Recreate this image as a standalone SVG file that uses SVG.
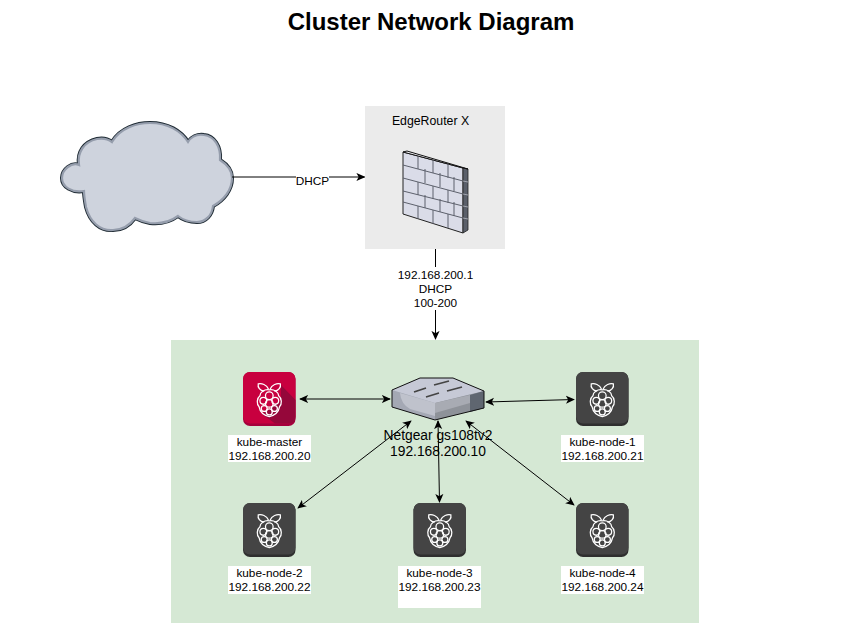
<svg xmlns="http://www.w3.org/2000/svg" xmlns:xlink="http://www.w3.org/1999/xlink" width="862" height="623" viewBox="0 0 862 623">
<style>
text{font-family:"Liberation Sans",Arial,sans-serif;fill:#000;text-anchor:middle}
.s{font-size:11.8px}
.m{font-size:13.8px}
.c{fill:none;stroke:#000;stroke-width:1}
.rb{fill:none;stroke:#fff;stroke-width:1.500}
.lb{fill:#fff}
</style>
<defs>
<marker id="a" viewBox="0 0 10 10" refX="9" refY="5" markerWidth="9" markerHeight="9" markerUnits="userSpaceOnUse" orient="auto-start-reverse"><path d="M0 0.5L10 5L0 9.5L2.5 5Z" fill="#000"/></marker>
<path id="cloudshape" d="M84 191C72 193 62 187 62 178C62 169 72 162 79 165C77 152 84 142 97 139C102 138 108 139 112 142C120 128 137 123 150 123C168 123 181 131 188 142C191 137 197 134 204 135C214 136 221 146 220 160C228 165 232 171 232 178C232 190 224 200 213 206C212 215 206 222 197 222C190 222 183 220 178 216C170 222 160 224 150 223C144 222 139 220 135 218C130 225 122 230 113 230C100 231 90 222 86 207C85 201 84 196 84 191Z"/>
<g id="berry" transform="scale(.85)">
<path class="rb" d="M-1 -13C-3 -18 -9 -20 -13 -19C-14 -15 -11 -11 -6 -10.500M1 -13C3 -18 9 -20 13 -19C14 -15 11 -11 6 -10.500"/>
<path class="rb" d="M0 -12C-6 -13 -11 -9 -11 -5C-15 -2 -15 5 -12 8C-11 14 -6 18 0 19.500C6 18 11 14 12 8C15 5 15 -2 11 -5C11 -9 6 -13 0 -12Z"/>
<circle class="rb" cx="0" cy="-5" r="4.500"/><circle class="rb" cx="-7" cy="1" r="4"/><circle class="rb" cx="7" cy="1" r="4"/><circle class="rb" cx="0" cy="4" r="4.500"/><circle class="rb" cx="-6" cy="10" r="3.500"/><circle class="rb" cx="6" cy="10" r="3.500"/><circle class="rb" cx="0" cy="14" r="3.500"/>
</g>
<g id="dark">
<rect x="0" y="0" width="52.500" height="54" rx="7" fill="#2f2f2f"/>
<rect x="0" y="0" width="52.500" height="51.500" rx="7" fill="#444"/>
<use xlink:href="#berry" href="#berry" x="26.300" y="28"/>
</g>
</defs>
<text x="431" y="29.500" font-size="24" font-weight="bold">Cluster Network Diagram</text>
<rect x="171" y="340" width="528" height="283" fill="#d5e8d4"/>
<g id="cloud">
<use xlink:href="#cloudshape" href="#cloudshape" fill="none" stroke="#1e2a33" stroke-width="4"/>
<use xlink:href="#cloudshape" href="#cloudshape" fill="#ced3dd" stroke="#959dac" stroke-width="2.200"/>
</g>
<g id="edgerouter">
<rect x="365" y="106" width="140" height="143" fill="#ebebeb"/>
<text x="430.500" y="125" font-size="12.300px">EdgeRouter X</text>
<path d="M403 152L463 168V233L403 214Z" fill="#dadce8" stroke="#222" stroke-width="1"/>
<path d="M463 168L468 169V230L463 233Z" fill="#5a5f6a" stroke="#222" stroke-width=".8"/>
<path d="M403 152L407 151L468 169L463 168Z" fill="#f6f6fa" stroke="#111" stroke-width="1"/>
<path d="M403 165L463 181M403 178L463 194M403 191L463 206M403 202L463 218M418 156V169M433 160V173M448 164V178M425 169V183M440 173V187M454 177V191M418 182V195M433 186V199M448 190V203M425 195V208M440 199V212M454 202V216M418 206V219M433 210V224M448 214V228" fill="none" stroke="#5d616c" stroke-width="1"/>
<path d="M463 181L468 182M463 194L468 195M463 206L468 207M463 218L468 219" stroke="#b5b8c2" stroke-width=".8" fill="none"/>
</g>
<g id="connectors">
<path class="c" d="M232 177H364.500" marker-end="url(#a)"/>
<path class="c" d="M435.500 249V339" marker-end="url(#a)"/>
<path class="c" d="M300 399H390" marker-start="url(#a)" marker-end="url(#a)"/>
<path class="c" d="M486 402L574 399.500" marker-start="url(#a)" marker-end="url(#a)"/>
<path class="c" d="M298 508L411 421" marker-start="url(#a)" marker-end="url(#a)"/>
<path class="c" d="M438 421L439.500 502" marker-start="url(#a)" marker-end="url(#a)"/>
<path class="c" d="M466 421L574 505" marker-start="url(#a)" marker-end="url(#a)"/>
</g>
<g id="edge-labels">
<rect x="296" y="173" width="33" height="13" fill="#fff"/>
<text class="s" x="312.500" y="185">DHCP</text>
<rect x="396" y="267" width="79" height="43" fill="#fff"/>
<text class="s" x="435.500" y="279">192.168.200.1</text>
<text class="s" x="435.500" y="293">DHCP</text>
<text class="s" x="435.500" y="307">100-200</text>
</g>
<g id="switch">
<path d="M392 390L420 378H453L484 391V408L435 420L392 407Z" fill="#c3c7d3"/>
<path d="M392 390L420 378H453L484 391L435 403Z" fill="#c6c9d6"/>
<path d="M392 390L435 403V420L392 407Z" fill="#a4a8b4"/>
<path d="M400 393L435 403V416L410 409Q401 404 400 393Z" fill="#bfc2cc"/>
<path d="M435 403L484 391V408L435 420Z" fill="#8e9299"/>
<path d="M435 403L470 395V403L435 413Z" fill="#a8abb3"/>
<path d="M470 395L484 391V408L470 412Z" fill="#5f6670"/>
<path d="M392 390L420 378H453L484 391V408L435 420L392 407Z" fill="none" stroke="#111" stroke-width="1"/>
<path d="M414 392L426 388M434 385L449 381M426 397L439 393M447 391L462 387" stroke="#444" stroke-width="1.800" fill="none"/>
<text class="m" x="438" y="440">Netgear gs108tv2</text>
<text class="m" x="438" y="456">192.168.200.10</text>
</g>
<g id="kube-master">
<rect x="243" y="372" width="52.500" height="54" rx="7" fill="#a5003c"/>
<rect x="243" y="372" width="52.500" height="51.500" rx="7" fill="#c8003f"/>
<path d="M281 385L295.500 400V417Q295.500 423.500 288.500 423.500H275L262 414L281 400Z" fill="#95073a"/>
<use xlink:href="#berry" href="#berry" x="269.300" y="400"/>
<rect class="lb" x="228" y="435" width="83" height="27"/>
<text class="s" x="269.500" y="446">kube-master</text>
<text class="s" x="269.500" y="460">192.168.200.20</text>
</g>
<g id="kube-node-1">
<use xlink:href="#dark" href="#dark" x="576" y="372"/>
<rect class="lb" x="561" y="435" width="83" height="27"/>
<text class="s" x="602.500" y="446">kube-node-1</text>
<text class="s" x="602.500" y="460">192.168.200.21</text>
</g>
<g id="kube-node-2">
<use xlink:href="#dark" href="#dark" x="243" y="503"/>
<rect class="lb" x="228" y="566" width="83" height="28"/>
<text class="s" x="269.500" y="577">kube-node-2</text>
<text class="s" x="269.500" y="591">192.168.200.22</text>
</g>
<g id="kube-node-3">
<use xlink:href="#dark" href="#dark" x="413.500" y="503"/>
<rect class="lb" x="398" y="566" width="83" height="42"/>
<text class="s" x="439.500" y="577">kube-node-3</text>
<text class="s" x="439.500" y="591">192.168.200.23</text>
</g>
<g id="kube-node-4">
<use xlink:href="#dark" href="#dark" x="576" y="503"/>
<rect class="lb" x="561" y="566" width="83" height="28"/>
<text class="s" x="602.500" y="577">kube-node-4</text>
<text class="s" x="602.500" y="591">192.168.200.24</text>
</g>
</svg>
